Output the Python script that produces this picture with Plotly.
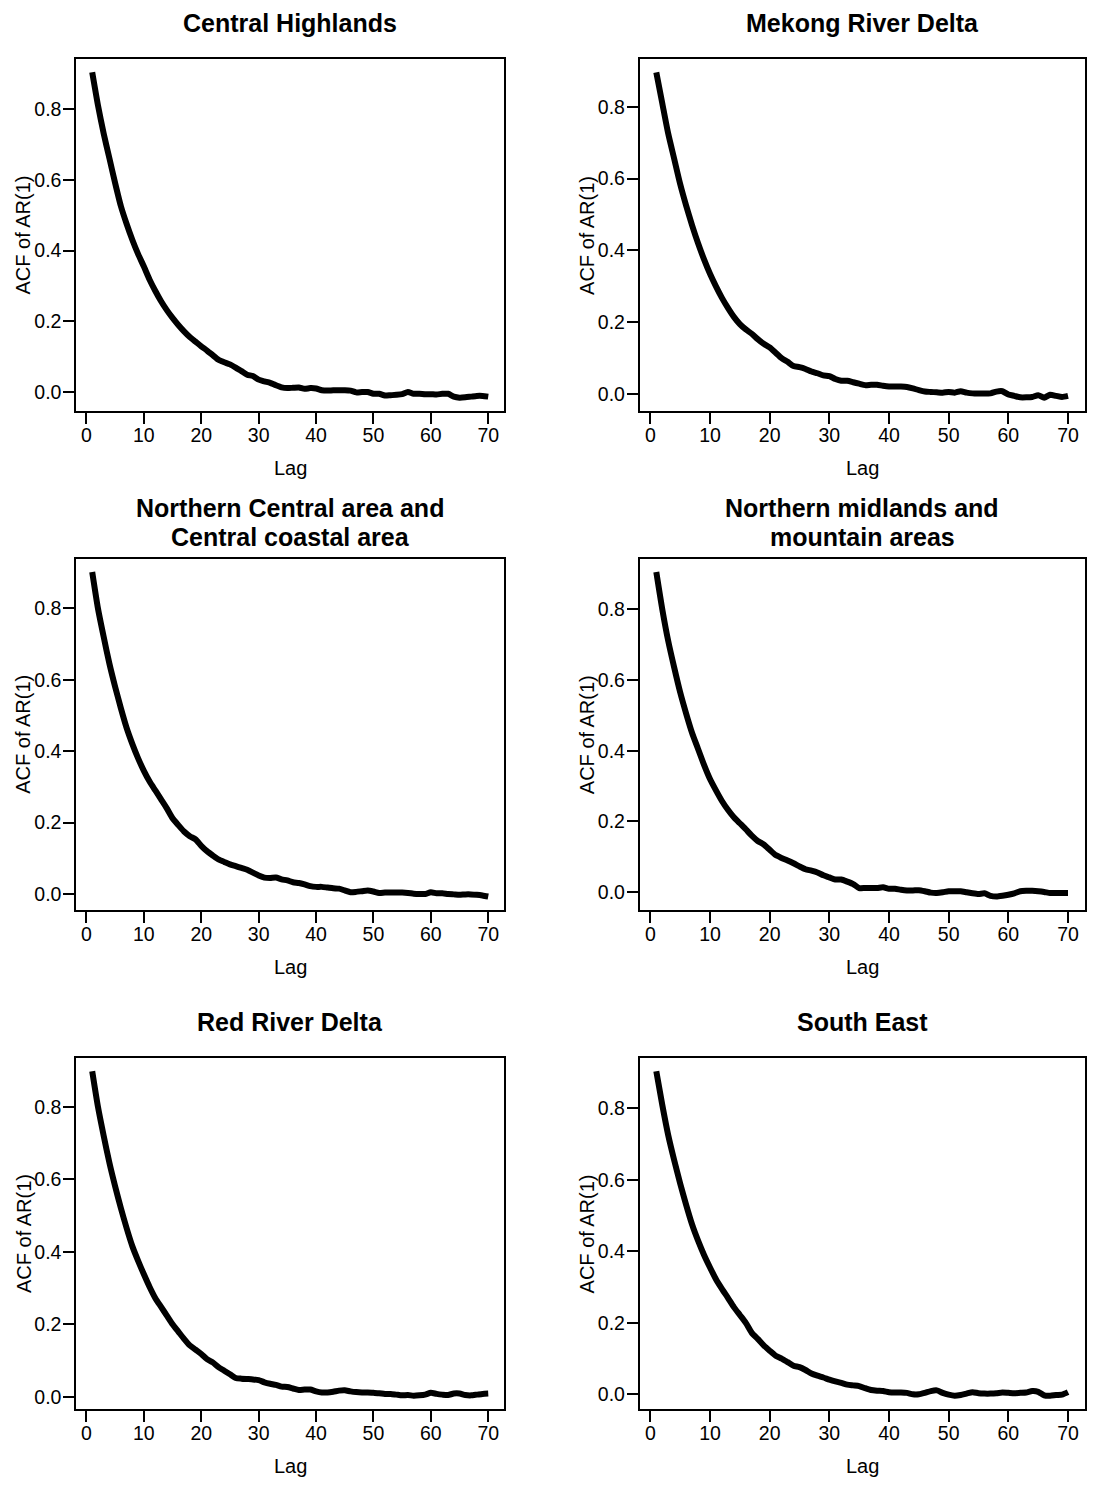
import plotly.graph_objects as go

# ---------------- data ----------------
lags = list(range(1, 71))

titles = [
    "Central Highlands",
    "Mekong River Delta",
    "Northern Central area and<br>Central coastal area",
    "Northern midlands and<br>mountain areas",
    "Red River Delta",
    "South East",
]

acf_central_highlands = [
    0.903, 0.81, 0.73, 0.66, 0.59, 0.525, 0.475, 0.43, 0.39, 0.355,
    0.318, 0.286, 0.257, 0.232, 0.21, 0.19, 0.172, 0.156, 0.143, 0.13,
    0.118, 0.105, 0.092, 0.085, 0.079, 0.07, 0.06, 0.05, 0.046, 0.036,
    0.031, 0.027, 0.02, 0.014, 0.012, 0.013, 0.014, 0.01, 0.012, 0.011,
    0.006, 0.005, 0.006, 0.006, 0.006, 0.005, 0.0, 0.001, 0.001, -0.004,
    -0.004, -0.009, -0.008, -0.007, -0.005, 0.001, -0.004, -0.004, -0.005, -0.005,
    -0.006, -0.004, -0.004, -0.012, -0.015, -0.014, -0.012, -0.01, -0.01, -0.012,
]

acf_mekong = [
    0.896, 0.81, 0.725, 0.655, 0.585, 0.525, 0.47, 0.42, 0.375, 0.335,
    0.3, 0.268, 0.24, 0.215, 0.195, 0.18, 0.168, 0.153, 0.14, 0.13,
    0.115, 0.1, 0.09, 0.078, 0.075, 0.07, 0.063, 0.058, 0.052, 0.05,
    0.042, 0.037, 0.037, 0.033, 0.029, 0.025, 0.026, 0.026, 0.023, 0.021,
    0.021, 0.021, 0.02, 0.016, 0.011, 0.007, 0.006, 0.005, 0.004, 0.006,
    0.004, 0.008, 0.004, 0.002, 0.002, 0.002, 0.002, 0.007, 0.008, -0.001,
    -0.005, -0.009, -0.009, -0.008, -0.003, -0.01, -0.002, -0.005, -0.008, -0.005,
]

acf_north_central = [
    0.902, 0.8, 0.72, 0.645, 0.58, 0.52, 0.465, 0.42, 0.38, 0.345,
    0.315, 0.29, 0.265, 0.24, 0.212, 0.193, 0.175, 0.162, 0.153, 0.135,
    0.12, 0.108, 0.097, 0.09, 0.083, 0.078, 0.073, 0.068, 0.06, 0.052,
    0.046, 0.045, 0.046, 0.041, 0.038, 0.033, 0.031, 0.027, 0.022, 0.02,
    0.02, 0.018, 0.016, 0.015, 0.01, 0.005, 0.006, 0.008, 0.01, 0.007,
    0.003, 0.004, 0.004, 0.004, 0.004, 0.003, 0.001, 0.0, 0.0, 0.005,
    0.002, 0.002, 0.0, -0.001, -0.002, -0.001, -0.001, -0.002, -0.004, -0.007,
]

acf_north_midlands = [
    0.905, 0.8, 0.71, 0.635, 0.565, 0.505, 0.45, 0.405, 0.36, 0.32,
    0.288, 0.258, 0.233, 0.212, 0.195, 0.178, 0.16, 0.145, 0.135, 0.12,
    0.105, 0.097, 0.09, 0.082, 0.073, 0.065, 0.061, 0.056, 0.048, 0.042,
    0.036, 0.036, 0.03, 0.023, 0.012, 0.012, 0.012, 0.012, 0.014, 0.01,
    0.01, 0.007, 0.005, 0.005, 0.006, 0.003, -0.001, -0.002, 0.0, 0.003,
    0.003, 0.003, 0.0, -0.003, -0.005, -0.003, -0.01, -0.012, -0.01, -0.007,
    -0.003, 0.003, 0.004, 0.004, 0.003, 0.001, -0.002, -0.002, -0.002, -0.002,
]

acf_red_river = [
    0.898, 0.8, 0.72, 0.645, 0.58, 0.52, 0.465, 0.415, 0.375, 0.338,
    0.303, 0.272, 0.248, 0.224, 0.2, 0.18, 0.16, 0.142, 0.13, 0.118,
    0.104, 0.095, 0.082, 0.072, 0.062, 0.052, 0.05, 0.049, 0.048, 0.046,
    0.04, 0.036, 0.033, 0.028, 0.027, 0.023, 0.019, 0.02, 0.02, 0.015,
    0.012, 0.012, 0.014, 0.017, 0.018, 0.015, 0.013, 0.012, 0.012, 0.011,
    0.01, 0.008, 0.008, 0.006, 0.004, 0.005, 0.003, 0.004, 0.006, 0.011,
    0.008, 0.006, 0.005, 0.009, 0.009, 0.005, 0.004, 0.006, 0.008, 0.009,
]

acf_south_east = [
    0.904, 0.81, 0.725, 0.655, 0.59, 0.53, 0.475, 0.43, 0.39, 0.355,
    0.322, 0.295, 0.27, 0.244, 0.222, 0.2, 0.172, 0.155, 0.137, 0.122,
    0.108, 0.1, 0.09, 0.08, 0.076, 0.068, 0.058, 0.052, 0.047, 0.041,
    0.036, 0.032, 0.027, 0.025, 0.023, 0.017, 0.012, 0.01, 0.009, 0.006,
    0.005, 0.005, 0.004, 0.0, 0.0, 0.004, 0.009, 0.011, 0.004, -0.001,
    -0.004, -0.002, 0.002, 0.006, 0.003, 0.002, 0.002, 0.003, 0.005, 0.004,
    0.003, 0.004, 0.005, 0.009, 0.007, -0.003, -0.004, -0.002, -0.001, 0.006,
]

series = [acf_central_highlands, acf_mekong, acf_north_central,
          acf_north_midlands, acf_red_river, acf_south_east]

x_tick_vals = [0, 10, 20, 30, 40, 50, 60, 70]
y_tick_vals = [0.0, 0.2, 0.4, 0.6, 0.8]
x_label = "Lag"
y_label = "ACF of AR(1)"

# ---------------- layout geometry ----------------
# Target positions are page pixels; the page body has an 8px margin,
# so the figure is sized to fit inside it and positions are shifted.
PAGE_W, PAGE_H = 1095, 1485
OFF = 8
W, H = PAGE_W - 2 * OFF, PAGE_H - 2 * OFF
col_px = [(76.5, 505.0), (641.0, 1086.5)]
row_px = [(59.3, 410.7), (559.0, 909.5), (1058.3, 1408.7)]
FONT = "Liberation Sans, Arial, Helvetica, sans-serif"
TICK_FS = 19.5
LABEL_FS = 20
TITLE_FS = 25


def px_x(p):
    return (p - OFF) / W


def px_y(p):
    return 1 - (p - OFF) / H


fig = go.Figure()
layout = dict(
    width=W, height=H,
    margin=dict(l=0, r=0, t=0, b=0),
    paper_bgcolor="white", plot_bgcolor="white",
    showlegend=False,
    font=dict(family=FONT, color="black", size=TICK_FS),
)
annotations = []

for i, (ttl, ys) in enumerate(zip(titles, series)):
    r, c = divmod(i, 2)
    x0, x1 = col_px[c]
    y0, y1 = row_px[r]
    xname = "x" if i == 0 else f"x{i+1}"
    yname = "y" if i == 0 else f"y{i+1}"
    xkey = "xaxis" if i == 0 else f"xaxis{i+1}"
    ykey = "yaxis" if i == 0 else f"yaxis{i+1}"

    fig.add_trace(go.Scatter(
        x=lags, y=ys, mode="lines", xaxis=xname, yaxis=yname,
        line=dict(color="black", width=6, shape="spline", smoothing=0.6),
        hoverinfo="x+y",
    ))

    xr = (max(lags) - min(lags)) * 0.04
    ymin, ymax = min(ys), max(ys)
    yr = (ymax - ymin) * 0.04

    common = dict(
        showline=True, linecolor="black", linewidth=2, mirror=True,
        ticks="outside", ticklen=11, tickwidth=2, tickcolor="black",
        showgrid=False, zeroline=False,
        tickfont=dict(family=FONT, size=TICK_FS, color="black"),
    )
    layout[xkey] = dict(
        common,
        domain=[px_x(x0), px_x(x1)],
        range=[min(lags) - xr, max(lags) + xr],
        tickmode="array", tickvals=x_tick_vals,
        ticklabelstandoff=-5,
        anchor=yname,
    )
    layout[ykey] = dict(
        common,
        domain=[px_y(y1), px_y(y0)],
        range=[ymin - yr, ymax + yr],
        tickmode="array", tickvals=y_tick_vals,
        tickformat=".1f",
        ticklabelstandoff=-2,
        anchor=xname,
    )

    cx = (x0 + x1) / 2
    lines = ttl.split("<br>")
    if len(lines) == 1:
        positions = [y0 - 36]
    else:
        positions = [y0 - 51, y0 - 22]
    for ln, py in zip(lines, positions):
        annotations.append(dict(
            text=ln, x=px_x(cx), y=px_y(py), xref="paper", yref="paper",
            showarrow=False, xanchor="center", yanchor="middle",
            font=dict(family=FONT, size=TITLE_FS, color="black", weight="bold"),
        ))
    annotations.append(dict(
        text=x_label, x=px_x(cx), y=px_y(y1 + 57.5), xref="paper", yref="paper",
        showarrow=False, xanchor="center", yanchor="middle",
        font=dict(family=FONT, size=LABEL_FS, color="black"),
    ))
    annotations.append(dict(
        text=y_label, x=px_x(x0 - 53), y=px_y((y0 + y1) / 2), xref="paper", yref="paper",
        showarrow=False, xanchor="center", yanchor="middle", textangle=-90,
        font=dict(family=FONT, size=LABEL_FS, color="black"),
    ))

layout["annotations"] = annotations
fig.update_layout(**layout)
fig.write_html("out.html")
